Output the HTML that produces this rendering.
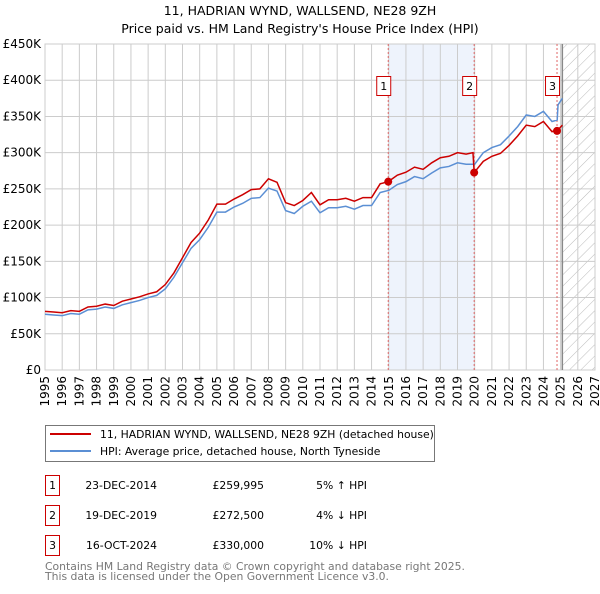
<!DOCTYPE html>
<html><head><meta charset="utf-8"><style>
body{margin:0;background:#fff;width:600px;height:590px;overflow:hidden;font-family:"DejaVu Sans","Liberation Sans",sans-serif}
svg text{font-family:"DejaVu Sans","Liberation Sans",sans-serif}
</style></head><body>
<svg id="c" width="600" height="590" xmlns="http://www.w3.org/2000/svg">
<defs><pattern id="hatch" width="8" height="8" patternUnits="userSpaceOnUse" patternTransform="rotate(45)"><line x1="0" y1="0" x2="0" y2="8" stroke="#bbb" stroke-width="1"/></pattern></defs>
<text x="300" y="15" text-anchor="middle" font-size="12.5">11, HADRIAN WYND, WALLSEND, NE28 9ZH</text>
<text x="300" y="33" text-anchor="middle" font-size="12.5">Price paid vs. HM Land Registry's House Price Index (HPI)</text>
<g id="plot"></g>
<g>
<rect x="45.5" y="425.5" width="389" height="36" fill="#fff" stroke="#777"/>
<line x1="50" y1="434" x2="91" y2="434" stroke="#cc0000" stroke-width="2"/>
<text x="100" y="438" font-size="10.8">11, HADRIAN WYND, WALLSEND, NE28 9ZH (detached house)</text>
<line x1="50" y1="451" x2="91" y2="451" stroke="#5b8fd4" stroke-width="2"/>
<text x="100" y="455" font-size="10.8">HPI: Average price, detached house, North Tyneside</text>
</g>
<g font-size="10.8">
<rect x="45.5" y="475.5" width="14" height="20" fill="none" stroke="#cc0000"/><text x="52.5" y="489" text-anchor="middle">1</text>
<text x="157" y="489" text-anchor="end">23-DEC-2014</text><text x="264" y="489" text-anchor="end">£259,995</text><text x="367" y="489" text-anchor="end">5% ↑ HPI</text>
<rect x="45.5" y="505.5" width="14" height="20" fill="none" stroke="#cc0000"/><text x="52.5" y="519" text-anchor="middle">2</text>
<text x="157" y="519" text-anchor="end">19-DEC-2019</text><text x="264" y="519" text-anchor="end">£272,500</text><text x="367" y="519" text-anchor="end">4% ↓ HPI</text>
<rect x="45.5" y="535.5" width="14" height="20" fill="none" stroke="#cc0000"/><text x="52.5" y="549" text-anchor="middle">3</text>
<text x="157" y="549" text-anchor="end">16-OCT-2024</text><text x="264" y="549" text-anchor="end">£330,000</text><text x="367" y="549" text-anchor="end">10% ↓ HPI</text>
</g>
<text x="45" y="570" font-size="10.8" fill="#777">Contains HM Land Registry data © Crown copyright and database right 2025.</text>
<text x="45" y="580" font-size="10.8" fill="#777">This data is licensed under the Open Government Licence v3.0.</text>
</svg>
<script>
const hpiYears=[1995,1995.5,1996,1996.5,1997,1997.5,1998,1998.5,1999,1999.5,2000,2000.5,2001,2001.5,2002,2002.5,2003,2003.5,2004,2004.5,2005,2005.5,2006,2006.5,2007,2007.5,2008,2008.5,2009,2009.5,2010,2010.5,2011,2011.5,2012,2012.5,2013,2013.5,2014,2014.5,2015,2015.5,2016,2016.5,2017,2017.5,2018,2018.5,2019,2019.5,2020,2020.5,2021,2021.5,2022,2022.5,2023,2023.5,2024,2024.5,2024.8,2024.85,2025.1];
const hpiValues=[77,76,75,78,77,83,84,87,85,90,93,96,100,103,112,128,148,168,180,197,218,218,225,230,237,238,251,247,220,216,226,233,217,224,224,226,222,227,227,245,248,256,260,267,264,272,279,281,286,284,284,300,307,311,323,336,352,350,357,343,345,366,375];
const redYears=[1995,1995.5,1996,1996.5,1997,1997.5,1998,1998.5,1999,1999.5,2000,2000.5,2001,2001.5,2002,2002.5,2003,2003.5,2004,2004.5,2005,2005.5,2006,2006.5,2007,2007.5,2008,2008.5,2009,2009.5,2010,2010.5,2011,2011.5,2012,2012.5,2013,2013.5,2014,2014.5,2014.97,2015.5,2016,2016.5,2017,2017.5,2018,2018.5,2019,2019.5,2019.9,2019.97,2020.5,2021,2021.5,2022,2022.5,2023,2023.5,2024,2024.5,2024.7,2024.79,2025.1];
const redValues=[81,80,79,82,81,87,88,91,89,95,98,101,105,108,118,134,155,176,189,207,229,229,236,242,249,250,264,259,231,227,234,245,228,235,235,237,233,238,238,257,260,269,273,280,277,286,293,295,300,298,300,272.5,288,295,299,310,323,338,336,343,329,331,330,338];
const saleYears=[2014.97,2019.97,2024.79];
const saleValues=[259.995,272.5,330];
const saleLabels=["1","2","3"];
const yTicks=[0,50,100,150,200,250,300,350,400,450];
const yTickLabels=["£0","£50K","£100K","£150K","£200K","£250K","£300K","£350K","£400K","£450K"];
const xTicks=[1995,1996,1997,1998,1999,2000,2001,2002,2003,2004,2005,2006,2007,2008,2009,2010,2011,2012,2013,2014,2015,2016,2017,2018,2019,2020,2021,2022,2023,2024,2025,2026,2027];
const dataEnd=2025.1;

const L=45,R=595,T=44,B=370;
const X=y=>L+(y-1995)*(R-L)/32;
const Y=v=>B-v*(B-T)/450;
const NS="http://www.w3.org/2000/svg";
const g=document.getElementById('plot');
function mk(tag,attrs,parent){const e=document.createElementNS(NS,tag);for(const k in attrs)e.setAttribute(k,attrs[k]);(parent||g).appendChild(e);return e;}

let e=mk('rect',{x:X(saleYears[0]),y:T,width:X(saleYears[1])-X(saleYears[0]),height:B-T,fill:'#eef3fc'});


e=mk('rect',{x:X(dataEnd),y:T,width:R-X(dataEnd),height:B-T,fill:'url(#hatch)'});


yTicks.forEach((v,i)=>{
  const l=mk('line',{x1:L,x2:R,y1:Y(v),y2:Y(v),stroke:'#ccc'});
  
  
  const t=mk('text',{x:L-4,y:Y(v)+4,'text-anchor':'end','font-size':'12'});
  t.textContent=yTickLabels[i];
  
  
});
xTicks.forEach(yr=>{
  const l=mk('line',{x1:X(yr),x2:X(yr),y1:T,y2:B,stroke:'#ccc'});
  
  
  const t=mk('text',{x:0,y:0,'text-anchor':'end','font-size':'12',transform:`translate(${X(yr)+4},${B+6}) rotate(-90)`});
  t.textContent=yr;
  
  
});
e=mk('rect',{x:L,y:T,width:R-L,height:B-T,fill:'none',stroke:'#ccc'});


e=mk('line',{x1:X(dataEnd),x2:X(dataEnd),y1:T,y2:B,stroke:'#888','stroke-width':1.5});


saleYears.forEach((yr,i)=>{
  const l=mk('line',{x1:X(yr),x2:X(yr),y1:T,y2:B,stroke:'#e06666','stroke-dasharray':'2,2'});
  
  
});
e=mk('polyline',{points:hpiYears.map((y,i)=>X(y)+','+Y(hpiValues[i])).join(' '),fill:'none',stroke:'#5b8fd4','stroke-width':1.5});


e=mk('polyline',{points:redYears.map((y,i)=>X(y)+','+Y(redValues[i])).join(' '),fill:'none',stroke:'#cc0000','stroke-width':1.5});


saleYears.forEach((yr,i)=>{
  const c=mk('circle',{cx:X(yr),cy:Y(saleValues[i]),r:4,fill:'#cc0000'});
  
  
  const bx=X(yr)-12;
  const r=mk('rect',{x:bx+0.5,y:76.5,width:14,height:19,fill:'#fff',stroke:'#cc0000'});
  
  
  const t=mk('text',{x:bx+7.5,y:90,'text-anchor':'middle','font-size':'11'});
  t.textContent=saleLabels[i];
  
  
});
</script>
</body></html>
